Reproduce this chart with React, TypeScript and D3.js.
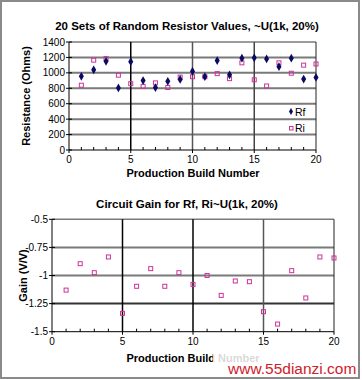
import * as d3 from "d3";
import React from "react";

// production build numbers 1..20
const builds = [1, 2, 3, 4, 5, 6, 7, 8, 9, 10, 11, 12, 13, 14, 15, 16, 17, 18, 19, 20];

// resistor values (ohms)
const rfValues = [955, 1040, 1150, 805, 1145, 900, 810, 890, 915, 1020, 950, 1160, 975, 1190, 1195, 1180, 1080, 1190, 920, 940];
const riValues = [840, 1165, 1185, 970, 860, 825, 870, 810, 945, 950, 950, 990, 925, 1130, 910, 830, 1130, 995, 1100, 1115];

// gain values (V/V)
const gainValues = [-1.13, -0.895, -0.975, -0.835, -1.337, -1.096, -0.939, -1.096, -0.975, -1.079, -1.0, -1.177, -1.049, -1.055, -1.322, -1.432, -0.957, -1.2, -0.835, -0.844];

const resTicks = [0, 200, 400, 600, 800, 1000, 1200, 1400];
const gainTicks = [-0.5, -0.75, -1, -1.25, -1.5];
const gainTickLabels = ["-0.5", "-0.75", "-1", "-1.25", "-1.5"];
const buildTicks = [0, 5, 10, 15, 20];

const font = "Liberation Sans, Arial, sans-serif";

export default function App() {
  const W = 362,
    H = 380;

  // top chart
  const x1 = d3.scaleLinear().domain([0, 20]).range([69, 316]);
  const y1 = d3.scaleLinear().domain([0, 1400]).range([150, 42]);
  // bottom chart
  const x2 = d3.scaleLinear().domain([0, 20]).range([52, 334]);
  const y2 = d3.scaleLinear().domain([-1.5, -0.5]).range([331.7, 219.3]);

  const minor = d3.range(0, 21);
  const diamond = d3.symbol().type(d3.symbolDiamond).size(22)();
  const smallDiamond = d3.symbol().type(d3.symbolDiamond).size(14)();

  const vColor1: Record<number, string> = { 5: "#000", 10: "#555", 15: "#444" };
  const vColor2: Record<number, string> = { 5: "#000", 10: "#000", 15: "#555" };
  const hColor2: Record<string, string> = { "-0.75": "#7a7a7a", "-1": "#7a7a7a", "-1.25": "#333" };

  return (
    <svg width={W} height={H} style={{ position: "absolute", left: 0, top: 0, background: "#fff" }} fontFamily={font}>
      <rect x={0} y={0} width={W} height={H} fill="#fff" />

      {/* ---------- top chart ---------- */}
      <text x={187} y={30} textAnchor="middle" fontSize={11.5} fontWeight="bold">
        20 Sets of Random Resistor Values, ~U(1k, 20%)
      </text>
      {resTicks.slice(1, -1).map((t) => (
        <line key={"h1" + t} x1={x1(0)} x2={x1(20)} y1={y1(t)} y2={y1(t)} stroke="#7a7a7a" strokeWidth={2} />
      ))}
      <line x1={x1(0)} x2={x1(20)} y1={y1(1400)} y2={y1(1400)} stroke="#7a7a7a" strokeWidth={1.5} />
      {[5, 10, 15].map((t) => (
        <line key={"v1" + t} x1={x1(t)} x2={x1(t)} y1={y1(0)} y2={y1(1400)} stroke={vColor1[t]} strokeWidth={1.5} />
      ))}
      <line x1={x1(20)} x2={x1(20)} y1={y1(0)} y2={y1(1400)} stroke="#222" strokeWidth={1} />
      <line x1={x1(0)} x2={x1(0)} y1={y1(0)} y2={y1(1400)} stroke="#000" strokeWidth={1} />
      <line x1={x1(0)} x2={x1(20)} y1={y1(0)} y2={y1(0)} stroke="#000" strokeWidth={1} />
      {resTicks.map((t) => (
        <g key={"yt1" + t}>
          <line x1={x1(0) - 3} x2={x1(0) + 3} y1={y1(t)} y2={y1(t)} stroke="#000" />
          <text x={x1(0) - 4} y={y1(t) + 3.5} textAnchor="end" fontSize={10}>
            {t}
          </text>
        </g>
      ))}
      {minor.map((t) => (
        <line key={"m1" + t} x1={x1(t)} x2={x1(t)} y1={y1(0)} y2={y1(0) - (t % 5 === 0 ? 0 : 3)} stroke="#000" />
      ))}
      {buildTicks.map((t) => (
        <g key={"xt1" + t}>
          <line x1={x1(t)} x2={x1(t)} y1={y1(0)} y2={y1(0) + 3} stroke="#000" />
          <text x={x1(t)} y={y1(0) + 13} textAnchor="middle" fontSize={10}>
            {t}
          </text>
        </g>
      ))}
      <text x={193} y={177} textAnchor="middle" fontSize={11} fontWeight="bold">
        Production Build Number
      </text>
      <text transform={`translate(30,${y1(700)}) rotate(-90)`} textAnchor="middle" fontSize={11} fontWeight="bold">
        Resistance (Ohms)
      </text>
      {builds.map((b, i) => (
        <rect key={"ri" + b} x={x1(b) - 2} y={y1(riValues[i]) - 2} width={4} height={4} fill="none" stroke="#cc3399" strokeWidth={1} />
      ))}
      {builds.map((b, i) => (
        <path key={"rf" + b} d={diamond} transform={`translate(${x1(b)},${y1(rfValues[i])})`} fill="#0a0a60" />
      ))}
      {/* legend */}
      <path d={smallDiamond} transform="translate(291,111.5)" fill="#0a0a60" />
      <text x={295} y={115.5} fontSize={10.5}>
        Rf
      </text>
      <rect x={289.5} y={126.5} width={3.5} height={3.5} fill="none" stroke="#cc3399" strokeWidth={1} />
      <text x={295} y={132} fontSize={10.5}>
        Ri
      </text>

      {/* ---------- bottom chart ---------- */}
      <text x={187} y={208} textAnchor="middle" fontSize={11.5} fontWeight="bold">
        Circuit Gain for Rf, Ri~U(1k, 20%)
      </text>
      {gainTicks.slice(1, -1).map((t) => (
        <line key={"h2" + t} x1={x2(0)} x2={x2(20)} y1={y2(t)} y2={y2(t)} stroke={hColor2[String(t)]} strokeWidth={2} />
      ))}
      <line x1={x2(0)} x2={x2(20)} y1={y2(-0.5)} y2={y2(-0.5)} stroke="#7a7a7a" strokeWidth={1.5} />
      {[5, 10, 15].map((t) => (
        <line key={"v2" + t} x1={x2(t)} x2={x2(t)} y1={y2(-1.5)} y2={y2(-0.5)} stroke={vColor2[t]} strokeWidth={1.5} />
      ))}
      <line x1={x2(20)} x2={x2(20)} y1={y2(-1.5)} y2={y2(-0.5)} stroke="#222" strokeWidth={1} />
      <line x1={x2(0)} x2={x2(0)} y1={y2(-1.5)} y2={y2(-0.5)} stroke="#000" strokeWidth={1} />
      <line x1={x2(0)} x2={x2(20)} y1={y2(-1.5)} y2={y2(-1.5)} stroke="#000" strokeWidth={1} />
      {gainTicks.map((t, i) => (
        <g key={"yt2" + t}>
          <line x1={x2(0) - 3} x2={x2(0) + 3} y1={y2(t)} y2={y2(t)} stroke="#000" />
          <text x={x2(0) - 4} y={y2(t) + 3.5} textAnchor="end" fontSize={10}>
            {gainTickLabels[i]}
          </text>
        </g>
      ))}
      {minor.map((t) => (
        <line key={"m2" + t} x1={x2(t)} x2={x2(t)} y1={y2(-1.5)} y2={y2(-1.5) - (t % 5 === 0 ? 0 : 3)} stroke="#000" />
      ))}
      {buildTicks.map((t) => (
        <g key={"xt2" + t}>
          <line x1={x2(t)} x2={x2(t)} y1={y2(-1.5)} y2={y2(-1.5) + 3} stroke="#000" />
          <text x={x2(t)} y={y2(-1.5) + 13} textAnchor="middle" fontSize={10}>
            {t}
          </text>
        </g>
      ))}
      <text x={193} y={362} textAnchor="middle" fontSize={11} fontWeight="bold">
        Production Build Number
      </text>
      <text transform={`translate(27,${y2(-1)}) rotate(-90)`} textAnchor="middle" fontSize={11} fontWeight="bold">
        Gain (V/V)
      </text>
      {builds.map((b, i) => (
        <rect key={"g" + b} x={x2(b) - 2} y={y2(gainValues[i]) - 2} width={4} height={4} fill="none" stroke="#cc3399" strokeWidth={1} />
      ))}

      {/* watermark */}
      <rect x={213} y={354} width={146} height={24} fill="#fff" opacity={0.85} />
      <text x={228} y={374} fontSize={15.5} fill="#d0202a">
        www.55dianzi.com
      </text>

      {/* outer frame */}
      <rect x={1} y={1} width={358} height={377} fill="none" stroke="#8a8a8a" strokeWidth={2} />
    </svg>
  );
}
